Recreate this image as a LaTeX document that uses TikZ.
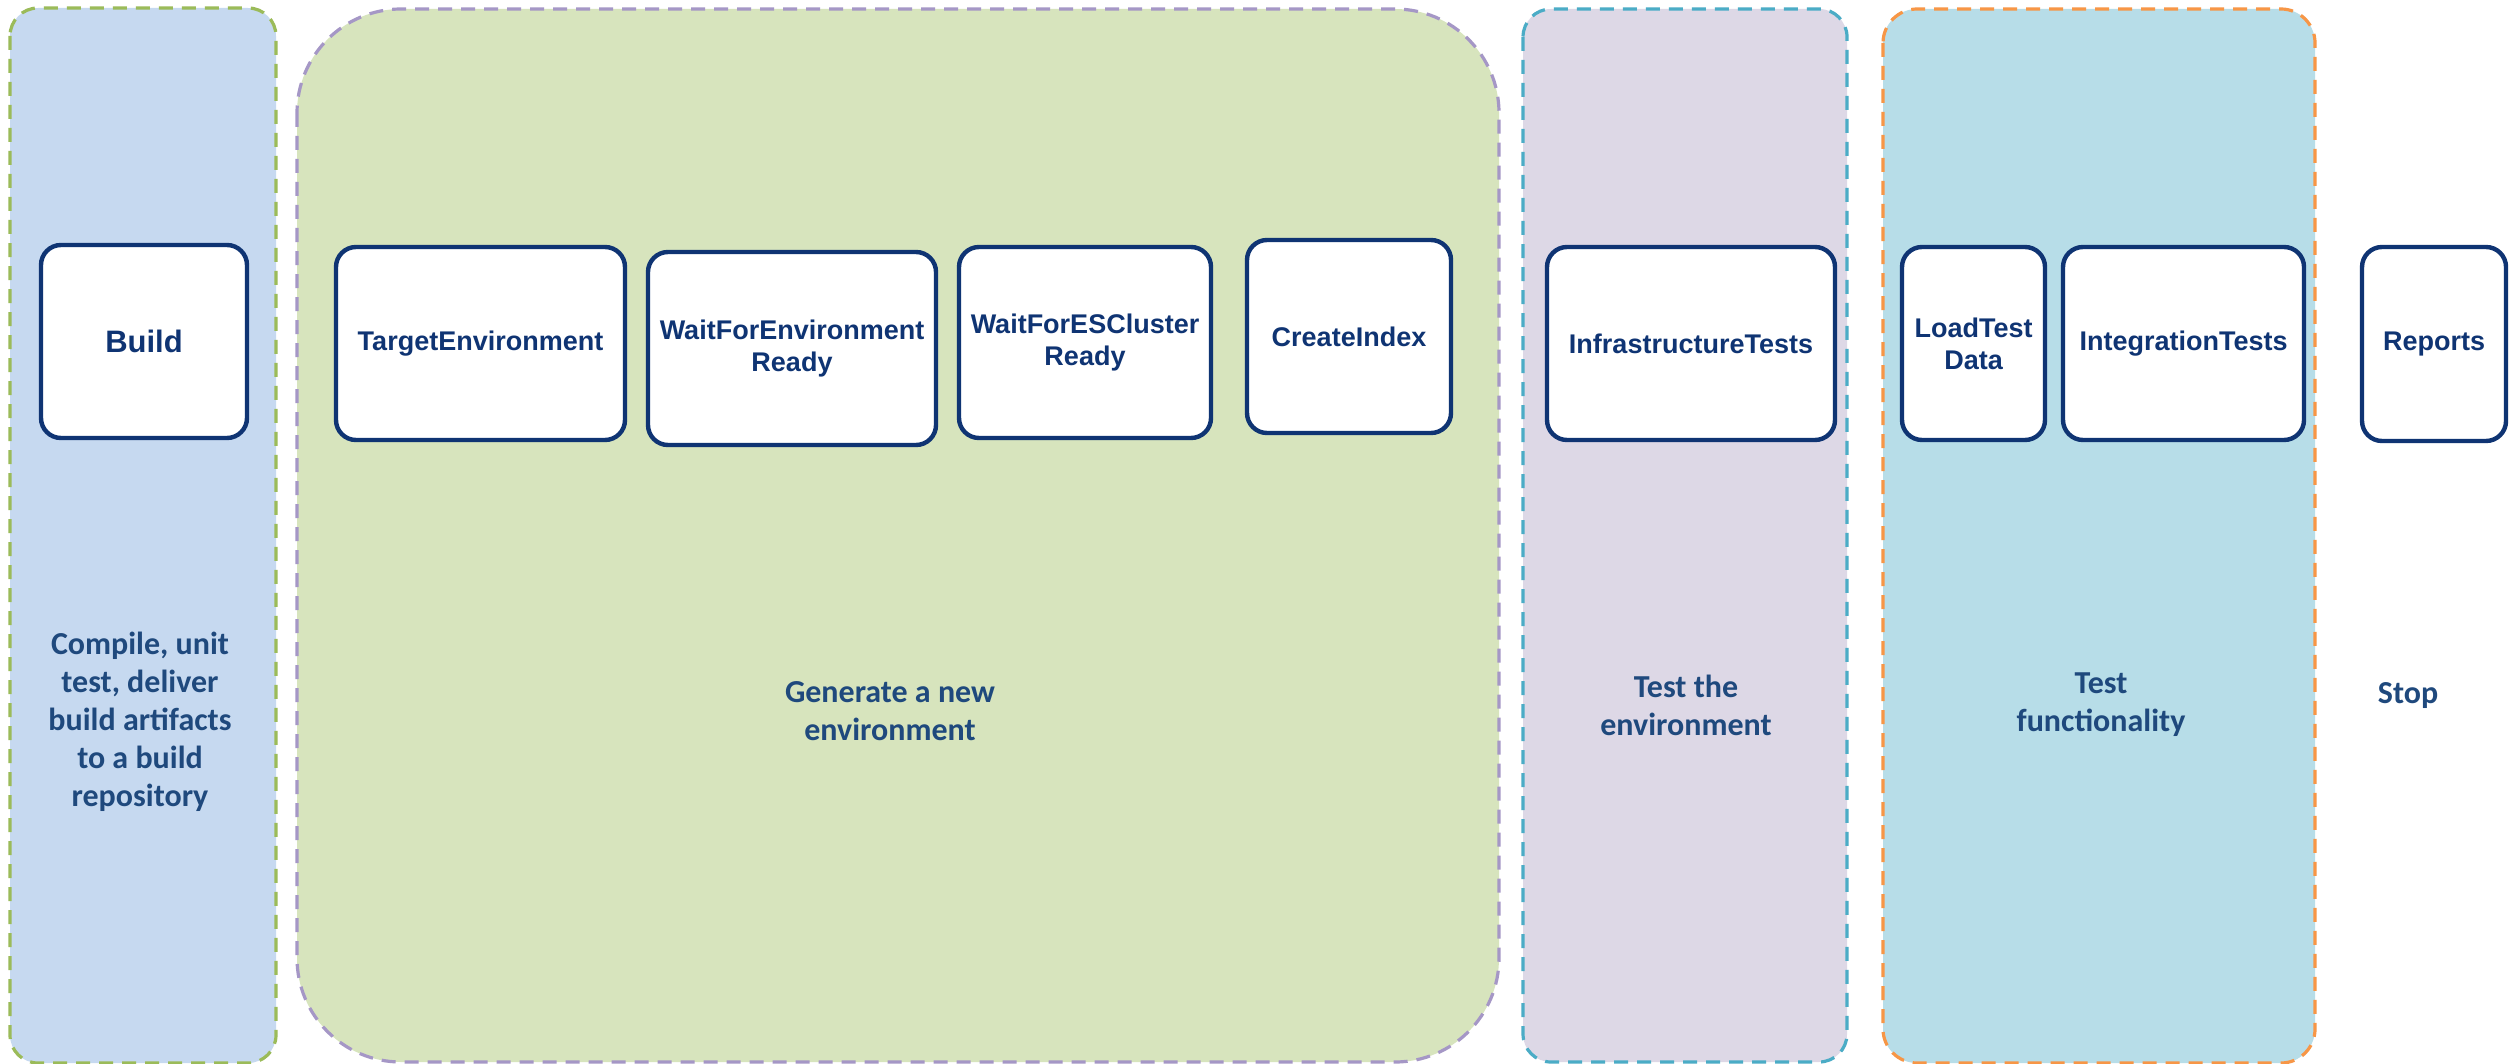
\documentclass[tikz,border=0pt]{standalone}
\usepackage{fontspec}
\setmainfont{Liberation Sans}
\newfontfamily\carl{Carlito}
\definecolor{navy}{HTML}{0F3473}
\definecolor{lbltext}{HTML}{1F497D}
\definecolor{fillbuild}{HTML}{C6D9F0}
\definecolor{bordbuild}{HTML}{9BBB59}
\definecolor{fillgen}{HTML}{D7E4BD}
\definecolor{bordgen}{HTML}{A597C6}
\definecolor{filltest}{HTML}{DDD8E6}
\definecolor{bordtest}{HTML}{4BACC6}
\definecolor{fillfunc}{HTML}{B7DDE8}
\definecolor{bordfunc}{HTML}{F79646}
\begin{document}
\begin{tikzpicture}[x=0.5pt,y=-0.5pt,
  panel/.style={dash pattern=on 7pt off 4.5pt, line width=1.6pt},
  stepbox/.style={draw=navy, fill=white, line width=2.2pt, rounded corners=10pt,
    text=navy, font=\fontsize{13.5}{16}\selectfont\bfseries, align=center,
    inner sep=0pt, minimum height=96.5pt},
  lbl/.style={text=lbltext, font=\carl\fontsize{16}{19}\selectfont\bfseries, align=center}]
\useasboundingbox (0,0) rectangle (2519,1064);
\fill[white] (0,0) rectangle (2519,1064);
% panels
\draw[panel, draw=bordbuild, fill=fillbuild, rounded corners=14pt] (10,8) rectangle (276,1063);
\draw[panel, draw=bordgen, fill=fillgen, rounded corners=52pt] (297,9) rectangle (1499,1062);
\draw[panel, draw=bordtest, fill=filltest, rounded corners=14pt] (1523,9) rectangle (1847,1062);
\draw[panel, draw=bordfunc, fill=fillfunc, rounded corners=17pt] (1883,9) rectangle (2315,1063);
% step boxes
\node[stepbox, minimum width=103pt, font=\fontsize{15.5}{18}\selectfont\bfseries] (build) at (144,341.5) {Build};
\node[stepbox, minimum width=144.5pt] (target) at (480.5,343.5) {TargetEnvironment};
\node[stepbox, minimum width=144pt] (waitenv) at (792,348.5) {WaitForEnvironment\\Ready};
\node[stepbox, minimum width=126pt, minimum height=95.5pt] (waites) at (1085,342.5) {WaitForESCluster\\Ready};
\node[stepbox, minimum width=102pt] (create) at (1349,336.5) {CreateIndex};
\node[stepbox, minimum width=144pt] (infra) at (1691,343.5) {InfrastructureTests};
\node[stepbox, minimum width=71.5pt] (load) at (1973.5,343.5) {LoadTest\\Data};
\node[stepbox, minimum width=120.5pt] (integ) at (2183.5,343.5) {IntegrationTests};
\node[stepbox, minimum width=72pt, minimum height=97pt] (reports) at (2434,344) {Reports};
% labels
\node[lbl] (compile) at (140,722) {Compile, unit\\test, deliver\\build artifacts\\to a build\\repository};
\node[lbl] (generate) at (890,711) {Generate a new\\environment};
\node[lbl] (testenv) at (1686,705) {Test the\\environment};
\node[lbl] (testfunc) at (2101,705) {Test\\functionality};
\node[lbl, anchor=base] (stop) at (2408,703) {Stop};
\end{tikzpicture}
\end{document}
